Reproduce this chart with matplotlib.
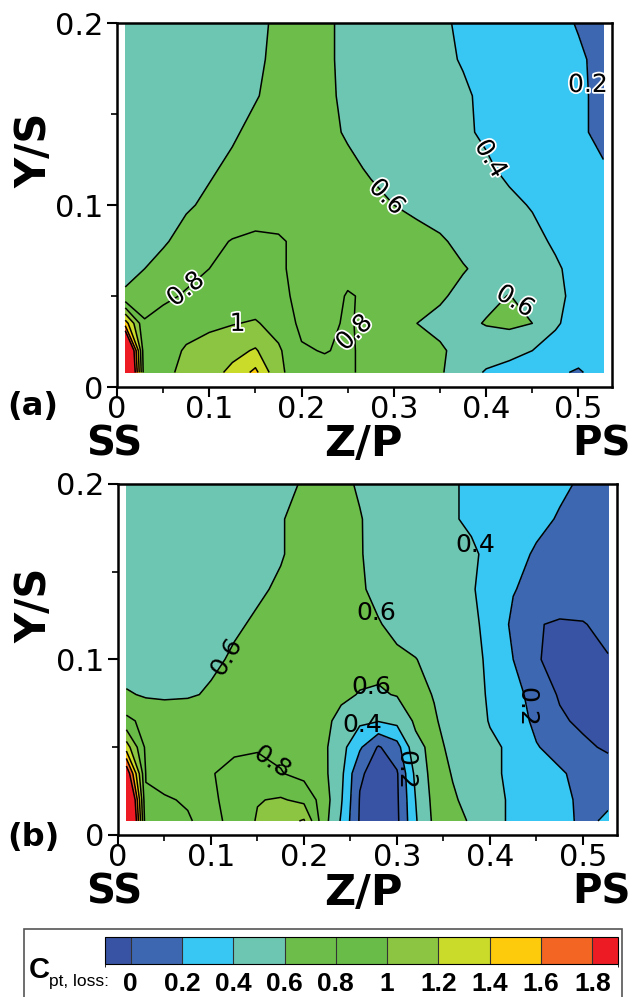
import matplotlib
matplotlib.use("Agg")
import matplotlib.pyplot as plt
import matplotlib.patheffects as pe
from matplotlib import font_manager
from matplotlib.colors import ListedColormap, BoundaryNorm
from matplotlib.cm import ScalarMappable
from matplotlib.patches import Rectangle
from matplotlib.ticker import MultipleLocator, FuncFormatter
import numpy as np

# Cpt,loss contour levels and the fill colour of each band
levels = [0, 0.2, 0.4, 0.6, 0.8, 1.0, 1.2, 1.4, 1.6, 1.8]
fill_colors = ["#3953a4", "#3d68b1", "#38c6f2", "#6dc6b1", "#6cbd4a", "#69bc47",
               "#8bc541", "#cadb2a", "#fdca0c", "#f26522", "#ed1c24"]

# measurement grid (Z/P across the passage, Y/S along the span)
y_grid = [0.008, 0.02, 0.035, 0.05, 0.065, 0.08, 0.1, 0.12, 0.14, 0.16, 0.18, 0.2]

z_a = [0.009, 0.03, 0.05, 0.075, 0.1, 0.125, 0.15, 0.175, 0.2, 0.225, 0.25,
       0.275, 0.3, 0.325, 0.35, 0.375, 0.4, 0.425, 0.45, 0.475, 0.5, 0.527]
cpt_a = [
    [2.8, 0.85, 0.95, 1.05, 1.12, 1.25, 1.45, 1.03, 0.92, 0.86, 0.82, 0.76, 0.7, 0.68, 0.62, 0.5, 0.38, 0.33, 0.28, 0.23, 0.18, 0.28],
    [2.6, 0.82, 0.92, 1.02, 1.08, 1.14, 1.22, 1.03, 0.82, 0.79, 0.83, 0.74, 0.72, 0.68, 0.62, 0.55, 0.5, 0.46, 0.4, 0.34, 0.28, 0.3],
    [1.5, 0.82, 0.88, 0.93, 0.96, 0.99, 1.02, 0.92, 0.76, 0.74, 0.83, 0.72, 0.66, 0.6, 0.56, 0.56, 0.61, 0.64, 0.6, 0.42, 0.33, 0.3],
    [0.62, 0.7, 0.76, 0.82, 0.86, 0.88, 0.88, 0.84, 0.76, 0.74, 0.81, 0.78, 0.7, 0.66, 0.62, 0.56, 0.56, 0.605, 0.54, 0.44, 0.35, 0.3],
    [0.56, 0.6, 0.66, 0.74, 0.8, 0.84, 0.85, 0.82, 0.76, 0.74, 0.76, 0.79, 0.72, 0.69, 0.65, 0.61, 0.56, 0.52, 0.47, 0.42, 0.35, 0.3],
    [0.5, 0.54, 0.58, 0.66, 0.75, 0.81, 0.84, 0.82, 0.76, 0.74, 0.74, 0.74, 0.7, 0.66, 0.62, 0.56, 0.52, 0.48, 0.44, 0.38, 0.32, 0.28],
    [0.48, 0.5, 0.53, 0.58, 0.63, 0.67, 0.7, 0.72, 0.72, 0.7, 0.68, 0.65, 0.6, 0.56, 0.53, 0.5, 0.47, 0.43, 0.39, 0.34, 0.3, 0.26],
    [0.47, 0.49, 0.51, 0.54, 0.58, 0.63, 0.67, 0.69, 0.69, 0.67, 0.64, 0.58, 0.54, 0.51, 0.48, 0.45, 0.42, 0.37, 0.33, 0.29, 0.25, 0.21],
    [0.46, 0.47, 0.49, 0.51, 0.54, 0.58, 0.64, 0.67, 0.68, 0.65, 0.58, 0.54, 0.51, 0.48, 0.45, 0.42, 0.38, 0.34, 0.3, 0.26, 0.22, 0.17],
    [0.45, 0.46, 0.48, 0.5, 0.52, 0.55, 0.59, 0.65, 0.67, 0.63, 0.57, 0.53, 0.5, 0.47, 0.44, 0.42, 0.37, 0.34, 0.3, 0.26, 0.22, 0.17],
    [0.45, 0.46, 0.47, 0.49, 0.51, 0.54, 0.57, 0.64, 0.67, 0.63, 0.56, 0.52, 0.49, 0.46, 0.43, 0.39, 0.36, 0.33, 0.3, 0.26, 0.22, 0.16],
    [0.45, 0.46, 0.47, 0.48, 0.5, 0.53, 0.56, 0.63, 0.67, 0.63, 0.56, 0.52, 0.48, 0.45, 0.42, 0.38, 0.35, 0.32, 0.28, 0.24, 0.19, 0.15],
]

z_b = [0.009, 0.03, 0.05, 0.075, 0.1, 0.125, 0.15, 0.175, 0.2, 0.22, 0.24, 0.26,
       0.28, 0.3, 0.32, 0.34, 0.36, 0.38, 0.4, 0.425, 0.45, 0.475, 0.5, 0.527]
cpt_b = [
    [2.8, 0.86, 0.84, 0.81, 0.76, 0.84, 1.02, 1.12, 1.22, 0.7, 0.38, -0.02, -0.1, -0.04, 0.38, 0.64, 0.66, 0.58, 0.48, 0.36, 0.3, 0.25, 0.17, 0.22],
    [2.6, 0.82, 0.81, 0.79, 0.77, 0.86, 0.99, 1.02, 0.95, 0.72, 0.42, -0.01, -0.1, -0.03, 0.4, 0.66, 0.62, 0.55, 0.46, 0.37, 0.3, 0.24, 0.17, 0.18],
    [2.0, 0.79, 0.76, 0.76, 0.79, 0.85, 0.88, 0.81, 0.74, 0.66, 0.45, 0.02, -0.06, -0.02, 0.45, 0.68, 0.59, 0.52, 0.44, 0.36, 0.29, 0.22, 0.15, 0.1],
    [1.3, 0.76, 0.74, 0.74, 0.75, 0.77, 0.78, 0.76, 0.72, 0.65, 0.47, 0.23, -0.02, 0.12, 0.55, 0.65, 0.56, 0.5, 0.43, 0.37, 0.21, 0.14, 0.04, -0.03],
    [0.85, 0.74, 0.72, 0.72, 0.73, 0.74, 0.75, 0.74, 0.71, 0.66, 0.54, 0.44, 0.41, 0.46, 0.63, 0.61, 0.56, 0.48, 0.39, 0.29, 0.16, 0.03, -0.04, -0.06],
    [0.62, 0.58, 0.57, 0.58, 0.62, 0.66, 0.69, 0.7, 0.7, 0.68, 0.64, 0.59, 0.58, 0.61, 0.63, 0.595, 0.54, 0.46, 0.38, 0.27, 0.12, -0.02, -0.06, -0.07],
    [0.5, 0.5, 0.52, 0.54, 0.57, 0.62, 0.66, 0.69, 0.7, 0.69, 0.68, 0.67, 0.65, 0.63, 0.605, 0.55, 0.5, 0.45, 0.37, 0.2, 0.01, -0.04, -0.03, -0.01],
    [0.48, 0.48, 0.5, 0.52, 0.55, 0.58, 0.62, 0.66, 0.68, 0.68, 0.66, 0.64, 0.61, 0.56, 0.52, 0.5, 0.47, 0.43, 0.36, 0.16, 0.01, -0.02, -0.01, 0.05],
    [0.47, 0.47, 0.48, 0.5, 0.52, 0.55, 0.58, 0.62, 0.66, 0.67, 0.65, 0.62, 0.56, 0.52, 0.49, 0.47, 0.44, 0.41, 0.36, 0.21, 0.14, 0.11, 0.1, 0.1],
    [0.46, 0.46, 0.47, 0.49, 0.51, 0.53, 0.56, 0.59, 0.65, 0.67, 0.65, 0.61, 0.55, 0.51, 0.48, 0.46, 0.44, 0.42, 0.37, 0.28, 0.17, 0.12, 0.1, 0.1],
    [0.46, 0.46, 0.47, 0.48, 0.5, 0.52, 0.55, 0.59, 0.65, 0.67, 0.65, 0.61, 0.54, 0.5, 0.47, 0.44, 0.41, 0.38, 0.35, 0.31, 0.26, 0.18, 0.12, 0.1],
    [0.46, 0.46, 0.47, 0.48, 0.49, 0.51, 0.54, 0.57, 0.61, 0.66, 0.64, 0.58, 0.52, 0.49, 0.46, 0.44, 0.41, 0.38, 0.36, 0.33, 0.29, 0.24, 0.17, 0.12],
]

# where each line label sits: (level, Z/P, Y/S, forced rotation or None)
labels_a = [
    (0.2, 0.512, 0.166, 0), (0.4, 0.407, 0.126, None), (0.6, 0.285, 0.101, None),
    (0.6, 0.444, 0.052, None), (0.8, 0.265, 0.030, 45), (0.8, 0.074, 0.054, None),
    (1.0, 0.13, 0.036, 0),
]
labels_b = [
    (0.6, 0.12, 0.101, None), (0.4, 0.37, 0.162, 0), (0.6, 0.272, 0.125, 0),
    (0.6, 0.274, 0.082, 0), (0.4, 0.262, 0.065, 0), (0.2, 0.309, 0.037, -90),
    (0.2, 0.441, 0.073, -90), (0.8, 0.165, 0.041, None),
]

fill_levels = [-1.0] + levels + [5.0]


def draw_panel(ax, z, cpt, xmax, labels, halo):
    Z, Y = np.meshgrid(z, y_grid)
    C = np.array(cpt)
    ax.set_xlim(0, xmax)
    ax.set_ylim(0, 0.2)
    ax.contourf(Z, Y, C, levels=fill_levels, colors=fill_colors)

    # one line set per level so a label can be tied to its own level
    lines = {}
    for lev in levels:
        if C.min() < lev < C.max():
            lines[lev] = ax.contour(Z, Y, C, levels=[lev], colors="black",
                                    linewidths=1.1)

    for level, zl, yl, rot in labels:
        texts = lines[level].clabel(manual=[(zl, yl)], inline=False, fontsize=18,
                                    colors="black", fmt=lambda v: f"{v:g}")
        txt = texts[-1]
        if rot is not None:
            txt.set_rotation(rot)
        if halo:
            txt.set_path_effects([pe.withStroke(linewidth=2.5, foreground="white")])

    ax.xaxis.set_major_locator(MultipleLocator(0.1))
    ax.xaxis.set_minor_locator(MultipleLocator(0.05))
    ax.yaxis.set_major_locator(MultipleLocator(0.1))
    ax.yaxis.set_minor_locator(MultipleLocator(0.05))
    fmt = FuncFormatter(lambda v, p: f"{v:g}")
    ax.xaxis.set_major_formatter(fmt)
    ax.yaxis.set_major_formatter(fmt)
    ax.tick_params(which="major", direction="out", length=7, width=1.5, labelsize=22)
    ax.tick_params(which="minor", direction="out", length=4, width=1.2)
    ax.tick_params(axis="x", pad=-1)
    ax.tick_params(axis="y", pad=3)
    for side in ax.spines.values():
        side.set_linewidth(1.8)


fig = plt.figure(figsize=(6.34, 9.97), dpi=100)

ax_a = fig.add_axes([0.1845, 0.6118, 0.7808, 0.3651])
draw_panel(ax_a, z_a, cpt_a, 0.5363, labels_a, halo=True)

ax_b = fig.add_axes([0.1861, 0.1625, 0.7871, 0.3521])
draw_panel(ax_b, z_b, cpt_b, 0.5366, labels_b, halo=False)

# axis titles and side markers
bold = dict(fontweight="bold", ha="center", va="center")
for yc_label, yc_bottom, yc_tag, tag in [(0.8495, 0.5545, 0.5918, "(a)"),
                                        (0.393, 0.1045, 0.1595, "(b)")]:
    fig.text(0.0536, yc_label, "Y/S", rotation=90, fontsize=30, **bold)
    fig.text(0.180, yc_bottom, "SS", fontsize=29, **bold)
    fig.text(0.573, yc_bottom, "Z/P", fontsize=31, **bold)
    fig.text(0.948, yc_bottom, "PS", fontsize=29, **bold)
    fig.text(0.052, yc_tag, tag, fontsize=23, **bold)

# legend box with the colour scale
names = {f.name for f in font_manager.fontManager.ttflist}
narrow = "Liberation Sans Narrow" if "Liberation Sans Narrow" in names else "Liberation Sans"

fig.patches.append(Rectangle((24 / 634, -0.01), 598 / 634, 68 / 997 + 0.01,
                             transform=fig.transFigure, fill=False,
                             edgecolor="#555555", linewidth=1.2))

cax = fig.add_axes([0.1656, 0.0331, 0.8091, 0.0271])
bounds = [-0.1] + levels + [1.9]
cmap = ListedColormap(fill_colors)
norm = BoundaryNorm(bounds, cmap.N)
cb = fig.colorbar(ScalarMappable(norm=norm, cmap=cmap), cax=cax,
                  orientation="horizontal", boundaries=bounds, ticks=levels,
                  spacing="proportional", drawedges=True)
cb.outline.set_linewidth(0.8)
cb.dividers.set_color("#333333")
cb.dividers.set_linewidth(0.8)
cax.tick_params(length=0, pad=6)
cax.set_xticklabels([f"{v:g}" for v in levels], fontsize=19, fontweight="bold",
                    family=narrow)

fig.text(0.0615, 0.027, "C", fontsize=21, fontweight="bold", family=narrow,
         ha="center", va="center")
fig.text(0.077, 0.0155, "pt, loss:", fontsize=12.5, family=narrow,
         ha="left", va="center")

plt.savefig("out.png", dpi=100)
